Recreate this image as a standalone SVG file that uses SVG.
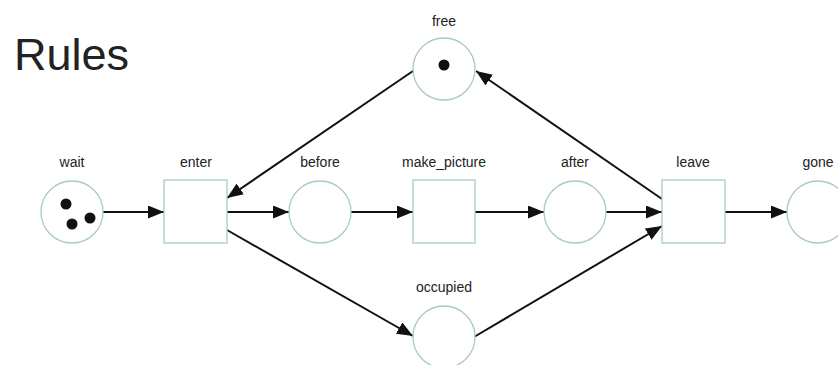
<svg xmlns="http://www.w3.org/2000/svg" width="838" height="365" viewBox="0 0 838 365">
  <defs>
    <marker id="arrow" viewBox="0 0 16 13" refX="16" refY="6.5" markerWidth="16" markerHeight="13" markerUnits="userSpaceOnUse" orient="auto">
      <path d="M0,0 L16,6.5 L0,13 Z" fill="#111"/>
    </marker>
    <style>
      .place { fill: #fff; stroke: #a9c9cc; stroke-width: 1.3; }
      .trans { fill: #fff; stroke: #a9c9cc; stroke-width: 1.3; }
      .token { fill: #111; }
      .label { font-family: "Liberation Sans", Arial, sans-serif; font-size: 14px; fill: #222; text-anchor: middle; }
      .title { font-family: "Liberation Sans", Arial, sans-serif; font-size: 45px; fill: #222; }
      .arc { stroke: #111; stroke-width: 2; fill: none; marker-end: url(#arrow); }
    </style>
  </defs>
  <rect width="838" height="365" fill="#fff"/>

  <text class="title" x="14" y="70">Rules</text>

  <!-- arcs -->
  <g id="connectors">
    <line class="arc" x1="103" y1="212" x2="164" y2="212"/>
    <line class="arc" x1="227" y1="212" x2="289" y2="212"/>
    <line class="arc" x1="351" y1="212" x2="413" y2="212"/>
    <line class="arc" x1="475" y1="212" x2="544" y2="212"/>
    <line class="arc" x1="606" y1="212" x2="662" y2="212"/>
    <line class="arc" x1="725" y1="212" x2="787" y2="212"/>
    <line class="arc" x1="413" y1="71" x2="227" y2="198"/>
    <line class="arc" x1="662" y1="199" x2="476" y2="71"/>
    <line class="arc" x1="227" y1="230" x2="413" y2="336"/>
    <line class="arc" x1="474" y1="337" x2="662" y2="226"/>
  </g>

  <!-- places and transitions -->
  <g id="wait">
    <circle class="place" cx="72" cy="212" r="31"/>
    <circle class="token" cx="66" cy="204" r="5.5"/>
    <circle class="token" cx="90" cy="218" r="5.5"/>
    <circle class="token" cx="72" cy="224" r="5.5"/>
    <text class="label" x="72" y="167">wait</text>
  </g>
  <g id="enter">
    <rect class="trans" x="164" y="180" width="63" height="63"/>
    <text class="label" x="196" y="167">enter</text>
  </g>
  <g id="before">
    <circle class="place" cx="320" cy="212" r="31"/>
    <text class="label" x="320" y="167">before</text>
  </g>
  <g id="make_picture">
    <rect class="trans" x="413" y="180" width="62" height="63"/>
    <text class="label" x="444" y="167">make_picture</text>
  </g>
  <g id="after">
    <circle class="place" cx="575" cy="212" r="31"/>
    <text class="label" x="575" y="167">after</text>
  </g>
  <g id="leave">
    <rect class="trans" x="662" y="180" width="63" height="63"/>
    <text class="label" x="693" y="167">leave</text>
  </g>
  <g id="gone">
    <circle class="place" cx="818" cy="212" r="31"/>
    <text class="label" x="818" y="167">gone</text>
  </g>
  <g id="free">
    <circle class="place" cx="444" cy="69" r="31"/>
    <circle class="token" cx="444" cy="65" r="5.5"/>
    <text class="label" x="444" y="26">free</text>
  </g>
  <g id="occupied">
    <circle class="place" cx="444" cy="337" r="31"/>
    <text class="label" x="444" y="292">occupied</text>
  </g>
</svg>
